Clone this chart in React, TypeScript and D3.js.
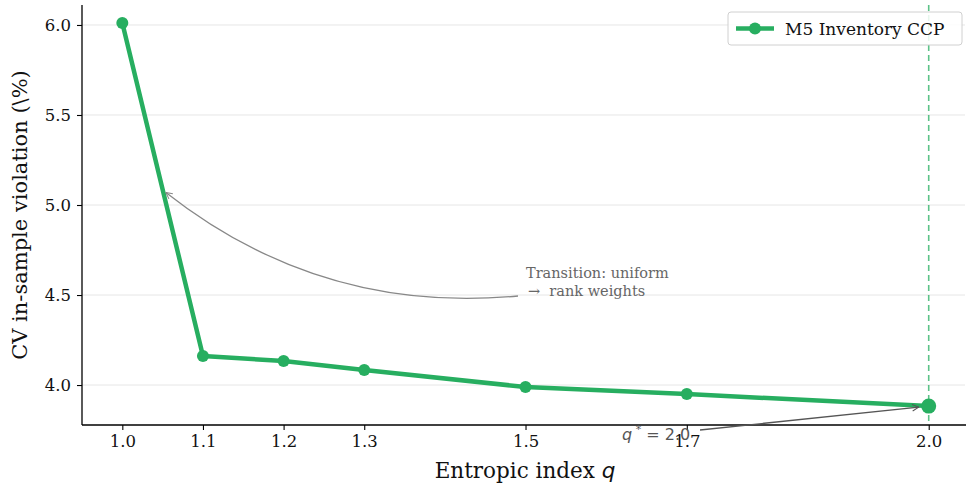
import React, { useEffect, useRef } from 'react';
import * as d3 from 'd3';

// values
const qValues = [1.0, 1.1, 1.2, 1.3, 1.5, 1.7, 2.0];
const violation = [6.011, 4.161, 4.133, 4.083, 3.989, 3.95, 3.883];
const yTicks = [4.0, 4.5, 5.0, 5.5, 6.0];
const seriesName = 'M5 Inventory CCP';
const bestQ = 2.0;

const App = () => {
    const svgRef = useRef<SVGSVGElement>(null);

    useEffect(() => {
        document.body.style.margin = '0';
        const width = 966;
        const height = 489;
        const margin = { top: 5, right: 1, bottom: 64, left: 82 };
        const green = '#27ae60';
        const font = '"DejaVu Serif", serif';

        const svg = d3.select(svgRef.current)
            .attr('width', width)
            .attr('height', height)
            .style('display', 'block')
            .style('font-family', font);

        svg.selectAll('*').remove();

        const x = d3.scaleLinear()
            .domain([0.95, 2.045])
            .range([margin.left, width - margin.right]);

        const y = d3.scaleLinear()
            .domain([3.778, 6.111])
            .range([height - margin.bottom, margin.top]);

        const defs = svg.append('defs');
        const marker = (id: string, color: string) => {
            defs.append('marker')
                .attr('id', id)
                .attr('viewBox', '0 0 10 10')
                .attr('refX', 9)
                .attr('refY', 5)
                .attr('markerWidth', 8)
                .attr('markerHeight', 8)
                .attr('markerUnits', 'userSpaceOnUse')
                .attr('orient', 'auto')
                .append('path')
                .attr('d', 'M1,1 L9,5 L1,9')
                .attr('fill', 'none')
                .attr('stroke', color)
                .attr('stroke-width', 1.3);
        };
        marker('arrGray', '#888');
        marker('arrDark', '#555');

        // grid
        svg.append('g')
            .selectAll('line')
            .data(yTicks)
            .join('line')
            .attr('x1', margin.left)
            .attr('x2', width - margin.right)
            .attr('y1', d => y(d))
            .attr('y2', d => y(d))
            .attr('stroke', '#e6e6e6')
            .attr('stroke-width', 1);

        // best q line
        svg.append('line')
            .attr('x1', x(bestQ))
            .attr('x2', x(bestQ))
            .attr('y1', margin.top)
            .attr('y2', height - margin.bottom)
            .attr('stroke', green)
            .attr('stroke-opacity', 0.75)
            .attr('stroke-width', 1.6)
            .attr('stroke-dasharray', '6,4');

        // axes
        const xAxis = svg.append('g')
            .attr('transform', `translate(0,${height - margin.bottom})`)
            .call(d3.axisBottom(x).tickValues(qValues).tickFormat(d3.format('.1f')).tickSize(5).tickPadding(5));
        const yAxis = svg.append('g')
            .attr('transform', `translate(${margin.left},0)`)
            .call(d3.axisLeft(y).tickValues(yTicks).tickFormat(d3.format('.1f')).tickSize(5).tickPadding(6));
        [xAxis, yAxis].forEach(a => {
            a.select('.domain').attr('stroke', '#000').attr('stroke-width', 1.3);
            a.selectAll('.tick line').attr('stroke', '#000').attr('stroke-width', 1.1);
            a.selectAll('.tick text').attr('fill', '#111').style('font-size', '16.5px').style('font-family', font);
        });
        xAxis.select('.domain').attr('d', `M${margin.left},0H${width}`);
        yAxis.select('.domain').attr('d', `M0,${margin.top}V${height - margin.bottom}`);

        // line + points
        const pts = qValues.map((q, i) => [q, violation[i]] as [number, number]);
        svg.append('path')
            .datum(pts)
            .attr('fill', 'none')
            .attr('stroke', green)
            .attr('stroke-width', 4.5)
            .attr('stroke-linejoin', 'round')
            .attr('d', d3.line<[number, number]>().x(d => x(d[0])).y(d => y(d[1])));

        svg.append('g')
            .selectAll('circle')
            .data(pts)
            .join('circle')
            .attr('cx', d => x(d[0]))
            .attr('cy', d => y(d[1]))
            .attr('r', d => (d[0] === bestQ ? 7.5 : 6))
            .attr('fill', green);

        // annotation: transition
        const p0: [number, number] = [518, 296];
        const p2: [number, number] = [x(1.054), y(5.07)];
        const mx = (p0[0] + p2[0]) / 2, my = (p0[1] + p2[1]) / 2;
        const f = 0.2;
        const cx = mx + f * (p2[1] - p0[1]);
        const cy = my - f * (p2[0] - p0[0]);
        svg.append('path')
            .attr('d', `M${p0[0]},${p0[1]} Q${cx},${cy} ${p2[0]},${p2[1]}`)
            .attr('fill', 'none')
            .attr('stroke', '#888')
            .attr('stroke-width', 1.3)
            .attr('marker-end', 'url(#arrGray)');
        const t1 = svg.append('text')
            .attr('x', 526)
            .attr('y', 278)
            .attr('fill', '#666')
            .attr('xml:space', 'preserve')
            .style('white-space', 'pre')
            .style('font-size', '14.5px');
        t1.append('tspan').attr('x', 526).text('Transition: uniform');
        t1.append('tspan').attr('x', 528).attr('dy', 18).text('\u2192  rank weights');

        // annotation: q*
        svg.append('line')
            .attr('x1', 700)
            .attr('y1', 430)
            .attr('x2', x(bestQ) - 10)
            .attr('y2', y(violation[violation.length - 1]) + 1)
            .attr('stroke', '#555')
            .attr('stroke-width', 1.3)
            .attr('marker-end', 'url(#arrDark)');
        const t2 = svg.append('text')
            .attr('x', 622)
            .attr('y', 440)
            .attr('fill', '#555')
            .style('font-size', '16px')
            .style('font-family', '"DejaVu Sans", sans-serif');
        t2.append('tspan').style('font-style', 'italic').text('q');
        t2.append('tspan').attr('dy', -7).style('font-size', '11px').text(' *');
        t2.append('tspan').attr('dy', 7).text(' = 2.0');

        // axis titles
        svg.append('text')
            .attr('x', 525)
            .attr('y', 478)
            .attr('text-anchor', 'middle')
            .attr('fill', '#111')
            .style('font-size', '21.5px')
            .call(t => {
                t.append('tspan').text('Entropic index ');
                t.append('tspan').style('font-family', '"DejaVu Sans", sans-serif').style('font-style', 'italic').text('q');
            });
        svg.append('text')
            .attr('transform', `translate(27,${(margin.top + height - margin.bottom) / 2}) rotate(-90)`)
            .attr('text-anchor', 'middle')
            .attr('fill', '#111')
            .style('font-size', '21px')
            .text('CV in-sample violation (\\%)');

        // legend
        const lg = svg.append('g').attr('transform', 'translate(728,12)');
        lg.append('rect')
            .attr('width', 234)
            .attr('height', 33)
            .attr('rx', 3)
            .attr('fill', '#fff')
            .attr('fill-opacity', 0.85)
            .attr('stroke', '#d0d0d0');
        lg.append('line')
            .attr('x1', 8).attr('x2', 46)
            .attr('y1', 16.5).attr('y2', 16.5)
            .attr('stroke', green)
            .attr('stroke-width', 4.5);
        lg.append('circle').attr('cx', 27).attr('cy', 16.5).attr('r', 6).attr('fill', green);
        lg.append('text')
            .attr('x', 57)
            .attr('y', 22.5)
            .attr('fill', '#111')
            .style('font-size', '17px')
            .text(seriesName);
    }, []);

    return <svg ref={svgRef}></svg>;
};

export default App;
